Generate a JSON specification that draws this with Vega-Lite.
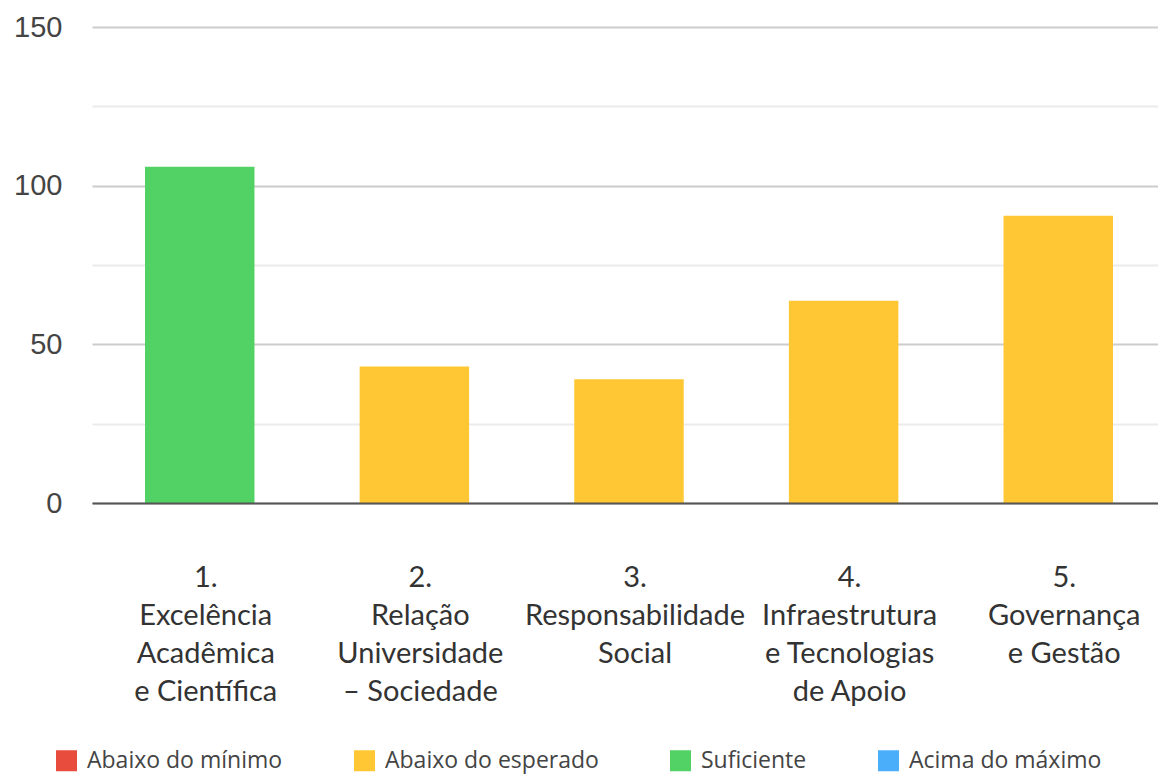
{
  "$schema": "https://vega.github.io/schema/vega-lite/v6.json",
  "autosize": "none",
  "padding": {"left": 92, "top": 27, "right": 0, "bottom": 273},
  "width": 1074,
  "height": 476,
  "background": "white",
  "data": {
    "values": [
      {"eixo": "1.\nExcelência\nAcadêmica\ne Científica", "valor": 106, "status": "Suficiente"},
      {"eixo": "2.\nRelação\nUniversidade\n– Sociedade", "valor": 43, "status": "Abaixo do esperado"},
      {"eixo": "3.\nResponsabilidade\nSocial", "valor": 39, "status": "Abaixo do esperado"},
      {"eixo": "4.\nInfraestrutura\ne Tecnologias\nde Apoio", "valor": 63.7, "status": "Abaixo do esperado"},
      {"eixo": "5.\nGovernança\ne Gestão", "valor": 90.5, "status": "Abaixo do esperado"}
    ]
  },
  "mark": {"type": "bar"},
  "encoding": {
    "x": {
      "field": "eixo",
      "type": "nominal",
      "sort": null,
      "scale": {"paddingInner": 0.49, "paddingOuter": 0.247},
      "axis": {
        "title": null,
        "zindex": 1,
        "labelAngle": 0,
        "labelExpr": "split(datum.value, '\\n')",
        "labelFont": "Lato",
        "labelFontSize": 29,
        "labelLineHeight": 38,
        "labelColor": "#333333",
        "labelPadding": 60,
        "labelOffset": 6,
        "labelBaseline": "top",
        "labelLimit": 0,
        "ticks": false,
        "domainColor": "#555555",
        "domainWidth": 2
      }
    },
    "y": {
      "field": "valor",
      "type": "quantitative",
      "scale": {"domain": [0, 150], "nice": false},
      "axis": {
        "title": null,
        "values": [0, 25, 50, 75, 100, 125, 150],
        "labelExpr": "datum.value % 50 === 0 ? datum.label : ''",
        "labelFont": "Liberation Sans",
        "labelFontSize": 29,
        "labelColor": "#444444",
        "labelPadding": 30,
        "ticks": false,
        "domain": false,
        "gridColor": {"condition": {"test": "datum.value % 50 === 0", "value": "#cccccc"}, "value": "#ebebeb"},
        "gridWidth": 2
      }
    },
    "color": {
      "field": "status",
      "type": "nominal",
      "scale": {
        "domain": ["Abaixo do mínimo", "Abaixo do esperado", "Suficiente", "Acima do máximo"],
        "range": ["#E74C3C", "#FFC733", "#52D164", "#4AAEFA"]
      },
      "legend": {
        "title": null,
        "orient": "none",
        "direction": "horizontal",
        "legendX": -37,
        "legendY": 722,
        "symbolType": "square",
        "symbolSize": 441,
        "symbolStrokeWidth": 0,
        "symbolOpacity": 1,
        "labelFont": "Open Sans",
        "labelFontSize": 23,
        "labelColor": "#444444",
        "labelOffset": 9,
        "columnPadding": 70,
        "labelLimit": 0
      }
    }
  },
  "config": {"view": {"stroke": null}}
}
